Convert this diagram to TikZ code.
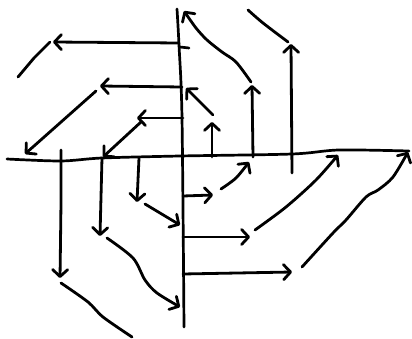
\documentclass[tikz,border=0pt]{standalone}
\usetikzlibrary{arrows.meta}
\tikzset{
  axisline/.style={line width=2.7pt,line cap=round,line join=round,draw=black},
  vec/.style={-{Straight Barb[length=7pt,width=15pt,round]},line width=2.8pt,line cap=round,draw=black},
  trail/.style={line width=2.8pt,line cap=round,line join=round,draw=black},
  trailvec/.style={-{Straight Barb[length=7pt,width=15pt,round]},line width=2.8pt,line cap=round,line join=round,draw=black}
}
\begin{document}
\begin{tikzpicture}[x=1pt,y=-1pt]
  \useasboundingbox (0,0) rectangle (412,339);
  % axes
  \draw[axisline] plot[smooth] coordinates {(7,159) (61,161) (102,158) (180,156) (292,154) (339,150) (409,151)};
  \draw[axisline] plot[smooth] coordinates {(177,9) (179,45) (182,118) (184,327)};
  \draw[axisline] (180,47) -- (189,48);
  % upper left
  \draw[vec] (179,43) -- (53,42);
  \draw[trail] (50,42) -- (34,58) -- (18,77);
  \draw[vec] (182,87) -- (100,86);
  \draw[trailvec] (96,91) -- (25,154);
  \draw[vec] (183,118) -- (137,118);
  \draw[trailvec] (141,122) -- (103,157);
  % upper right
  \draw[vec] (212,157) -- (212,122);
  \draw[trailvec] (213,115) -- (186,88);
  \draw[vec] (253,157) -- (252,85);
  \draw[trailvec] plot[smooth] coordinates {(251,82) (236,62) (222,52) (207,40) (196,28) (184,11)};
  \draw[vec] (292,173) -- (291,44);
  \draw[trail] plot[smooth] coordinates {(288,42) (263,23) (248,10)};
  % lower left
  \draw[vec] plot[smooth] coordinates {(61,150) (61,200) (60,278)};
  \draw[trail] plot[smooth] coordinates {(61,283) (88,302) (103,317) (132,337)};
  \draw[vec] (102,158) -- (100,236);
  \draw[trailvec] plot[smooth] coordinates {(107,238) (133,258) (145,280) (157,293) (180,307)};
  \draw[vec] (139,158) -- (137,202);
  \draw[trailvec] (145,204) -- (180,225);
  % lower right
  \draw[vec] (183,196) -- (213,195);
  \draw[trailvec] plot[smooth] coordinates {(221,189) (236,178) (249,162)};
  \draw[vec] (183,237) -- (250,237);
  \draw[trailvec] plot[smooth] coordinates {(255,230) (286,207) (316,180) (338,155)};
  \draw[vec] (183,274) -- (292,272);
  \draw[trailvec] plot[smooth] coordinates {(302,267) (333,233) (346,220) (366,197) (378,190) (393,177) (408,152)};
\end{tikzpicture}
\end{document}
